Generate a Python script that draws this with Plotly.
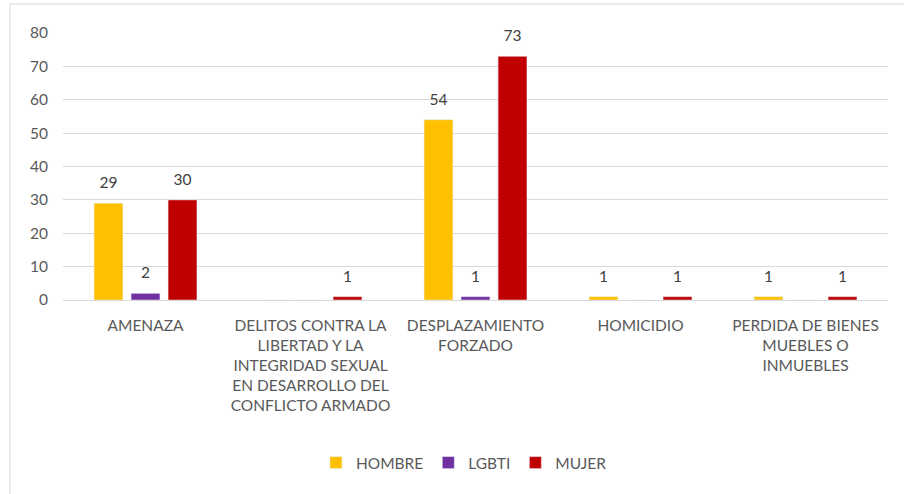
import plotly.graph_objects as go

categories = [
    "AMENAZA",
    "DELITOS CONTRA LA<br>LIBERTAD Y LA<br>INTEGRIDAD SEXUAL<br>EN DESARROLLO DEL<br>CONFLICTO ARMADO",
    "DESPLAZAMIENTO<br>FORZADO",
    "HOMICIDIO",
    "PERDIDA DE BIENES<br>MUEBLES O<br>INMUEBLES",
]
hombre = [29, 0, 54, 1, 1]
lgbti = [2, 0, 1, 0, 0]
mujer = [30, 1, 73, 1, 1]
series_names = ["HOMBRE", "LGBTI", "MUJER"]
series_values = [hombre, lgbti, mujer]
colors = ["#FFC000", "#7030A0", "#C00000"]
y_ticks = [0, 10, 20, 30, 40, 50, 60, 70, 80]

FONT = "Lato"
GRAY = "#595959"
FS = 15.5

fig = go.Figure()
for i, (name, vals, col) in enumerate(zip(series_names, series_values, colors)):
    fig.add_trace(go.Bar(
        name=name, x=categories, y=vals, marker_color=col,
        offsetgroup=str(i), alignmentgroup="a", hoverinfo="skip",
    ))
for i, (name, vals, col) in enumerate(zip(series_names, series_values, colors)):
    fig.add_trace(go.Scatter(
        x=categories, y=vals, mode="markers+text",
        text=[str(v) if v else "" for v in vals],
        textposition="top center",
        textfont=dict(family=FONT, size=FS, color="#404040"),
        marker=dict(size=16, color="rgba(0,0,0,0)"),
        offsetgroup=str(i), alignmentgroup="a",
        showlegend=False, hoverinfo="skip", cliponaxis=False,
    ))

L, R, T, B = 63, 16, 33, 194
W, H = 904, 494
pw, ph = W - L - R, H - T - B
bx = (10 - L) / pw
by = (H - B - 4) / ph

fig.update_layout(
    width=W, height=H,
    margin=dict(l=L, r=R, t=T, b=B, autoexpand=False),
    paper_bgcolor="white", plot_bgcolor="white",
    barmode="group", bargap=0.327, bargroupgap=0.22,
    scattermode="group", scattergap=0.327,
    font=dict(family=FONT, size=FS, color=GRAY),
    legend=dict(orientation="h", x=0.486, xanchor="center", y=(H - B - 463) / ph, yanchor="middle",
                font=dict(family=FONT, size=FS, color=GRAY), itemwidth=30,
                traceorder="normal"),
    xaxis=dict(showgrid=False, showline=False, ticks="", tickfont=dict(size=FS, color=GRAY),
               tickangle=0, ticklabelstandoff=14, automargin=False),
    yaxis=dict(range=[0, 80], tickvals=y_ticks, showgrid=True, gridcolor="#D9D9D9", gridwidth=1,
               zeroline=True, zerolinecolor="#D9D9D9", zerolinewidth=1, showline=False, ticks="",
               tickfont=dict(size=FS, color=GRAY), ticklabelstandoff=14, automargin=False),
    shapes=[
        dict(type="line", xref="paper", yref="paper", x0=bx, x1=bx, y0=-2, y1=by,
             line=dict(color="#D9D9D9", width=1)),
        dict(type="line", xref="paper", yref="paper", x0=bx, x1=1.5, y0=by, y1=by,
             line=dict(color="#D9D9D9", width=1)),
    ],
)

fig.write_html("out.html", config={"displayModeBar": False},
               post_script="document.body.style.margin='0';document.body.style.overflow='hidden';")
